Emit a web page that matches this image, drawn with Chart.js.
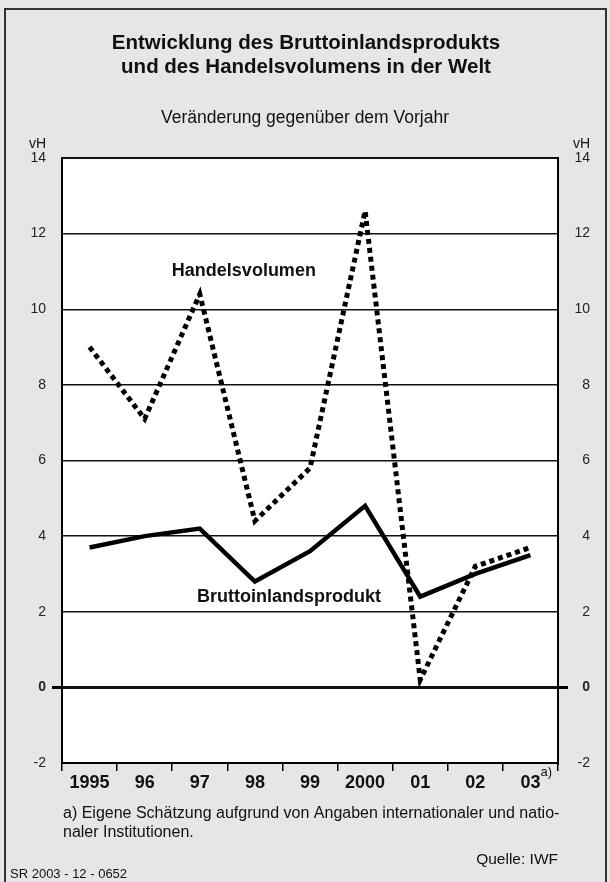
<!DOCTYPE html>
<html><head><meta charset="utf-8">
<script src="https://cdn.jsdelivr.net/npm/chart.js@4"></script>
<style>html,body{margin:0;padding:0;background:#e6e6e6;} canvas{display:block}</style>
</head><body>
<canvas id="c" width="610" height="882"></canvas>
<script>
const years = ['1995','96','97','98','99','2000','01','02','03'];
const bip = [3.7, 4.0, 4.2, 2.8, 3.6, 4.8, 2.4, 3.0, 3.5];
const handel = [9.0, 7.1, 10.4, 4.4, 5.8, 12.6, 0.2, 3.2, 3.7];
const yMin = -2, yMax = 14, yStep = 2;

const FONT = '"Liberation Sans", Arial, Helvetica, sans-serif';

const deco = {
  id: 'deco',
  beforeDraw(chart) {
    const ctx = chart.ctx, a = chart.chartArea;
    ctx.save();
    ctx.fillStyle = '#e6e6e6';
    ctx.fillRect(0, 0, chart.width, chart.height);
    ctx.strokeStyle = '#333';
    ctx.lineWidth = 2;
    ctx.strokeRect(5, 9, 601, 900);
    ctx.fillStyle = '#fff';
    ctx.fillRect(a.left, a.top, a.right - a.left, a.bottom - a.top);
    ctx.restore();
  },
  afterDraw(chart) {
    const ctx = chart.ctx, a = chart.chartArea;
    const xs = chart.scales.x, ys = chart.scales.y;
    ctx.save();
    ctx.fillStyle = '#111';
    ctx.textBaseline = 'alphabetic';
    ctx.textAlign = 'center';
    ctx.font = 'bold 20.5px ' + FONT;
    ctx.fillText('Entwicklung des Bruttoinlandsprodukts', 306, 49);
    ctx.fillText('und des Handelsvolumens in der Welt', 306, 73);
    ctx.font = '17.5px ' + FONT;
    ctx.fillText('Veränderung gegenüber dem Vorjahr', 305, 123);
    ctx.font = '14px ' + FONT;
    ctx.textAlign = 'right';
    ctx.fillText('vH', 46, 148);
    ctx.fillText('vH', 590, 148);
    // series labels
    ctx.textAlign = 'center';
    ctx.font = 'bold 18px ' + FONT;
    ctx.fillText('Handelsvolumen', xs.getPixelForValue(2.8), ys.getPixelForValue(10.87));
    ctx.fillText('Bruttoinlandsprodukt', xs.getPixelForValue(3.62), ys.getPixelForValue(2.25));
    // superscript a)
    ctx.font = 'bold 18px ' + FONT;
    const w03 = ctx.measureText(years[8]).width;
    ctx.font = '13px ' + FONT;
    ctx.textAlign = 'left';
    ctx.fillText('a)', xs.getPixelForValue(8) + w03 / 2, a.bottom + 13);
    // footnotes
    ctx.font = '16px ' + FONT;
    ctx.fillText('a) Eigene Schätzung aufgrund von Angaben internationaler und natio-', 63, 818);
    ctx.fillText('naler Institutionen.', 63, 837);
    ctx.textAlign = 'right';
    ctx.font = '15.5px ' + FONT;
    ctx.fillText('Quelle: IWF', 558, 864);
    ctx.textAlign = 'left';
    ctx.font = '13px ' + FONT;
    ctx.fillText('SR 2003 - 12 - 0652', 10, 878);
    ctx.restore();
  }
};

const yTickFont = (ctx) => ({ family: FONT, size: 14, weight: (ctx.tick && ctx.tick.value === 0) ? 'bold' : 'normal' });
const zeroTick = (ctx) => (ctx.tick && ctx.tick.value === 0) ? '#000' : 'rgba(0,0,0,0)';

new Chart(document.getElementById('c'), {
  type: 'line',
  data: {
    labels: years,
    datasets: [
      { label: 'Handelsvolumen', data: handel, borderColor: '#000', borderWidth: 5,
        borderDash: [5, 4], borderCapStyle: 'butt', borderJoinStyle: 'miter',
        pointRadius: 0, tension: 0, fill: false },
      { label: 'Bruttoinlandsprodukt', data: bip, borderColor: '#000', borderWidth: 4.5,
        borderJoinStyle: 'miter', pointRadius: 0, tension: 0, fill: false }
    ]
  },
  options: {
    responsive: false,
    animation: false,
    events: [],
    layout: { padding: { top: 158, left: 0, right: 20, bottom: 0 } },
    plugins: { legend: { display: false }, tooltip: { enabled: false }, title: { display: false } },
    scales: {
      x: {
        type: 'category', offset: true,
        grid: { offset: true, drawOnChartArea: false, drawTicks: true, tickLength: 8, color: '#000', lineWidth: 1.5 },
        border: { display: true, color: '#000', width: 2 },
        ticks: { font: { family: FONT, size: 18, weight: 'bold' }, color: '#111', padding: 1, maxRotation: 0, autoSkip: false },
        afterFit(s) { s.height = 119; }
      },
      y: {
        position: 'left', min: yMin, max: yMax,
        ticks: { stepSize: yStep, font: yTickFont, color: '#222', padding: 6 },
        grid: { color: '#111', lineWidth: (c) => c.tick.value === 0 ? 3 : (c.tick.value === 14 || c.tick.value === -2 ? 2 : 1.5),
                drawTicks: true, tickLength: 10, tickColor: zeroTick },
        border: { display: true, color: '#000', width: 2 },
        afterFit(s) { s.width = 62; }
      },
      y2: {
        position: 'right', min: yMin, max: yMax,
        ticks: { stepSize: yStep, font: yTickFont, color: '#222', padding: 6, crossAlign: 'far' },
        grid: { drawOnChartArea: false, drawTicks: true, tickLength: 10, tickColor: zeroTick, lineWidth: 3 },
        border: { display: true, color: '#000', width: 2 },
        afterFit(s) { s.width = 32; }
      }
    }
  },
  plugins: [deco]
});
</script>
</body></html>
